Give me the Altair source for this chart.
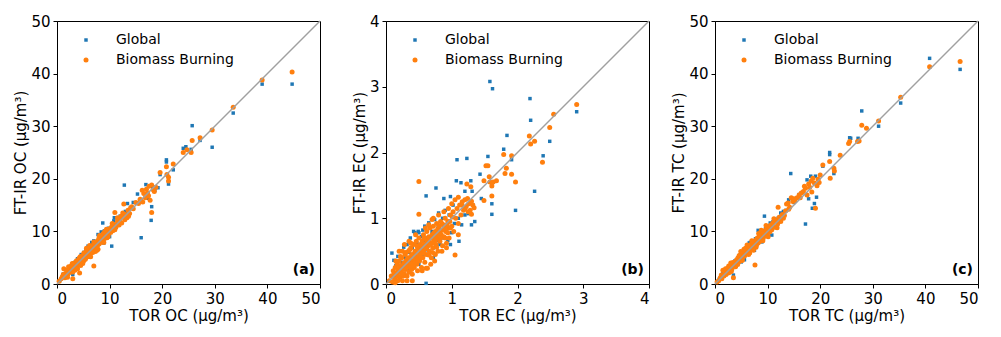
import altair as alt
import pandas as pd

SERIES = ["Global", "Biomass Burning"]
COLORS = ["#1f77b4", "#ff7f0e"]
SHAPES = ["square", "circle"]

# ---------------- Panel (a): OC ----------------
oc_global = [
    (0.5,0.6),(1.2,1.9),(1.8,2.2),(2.3,2.9),(2.9,3.5),(3.0,1.8),(3.4,4.1),(3.9,4.8),(4.2,4.0),(4.6,5.6),
    (5.1,6.0),(5.5,6.5),(5.9,7.2),(6.3,6.9),(6.6,7.9),(7.0,8.2),(7.3,7.7),(7.8,9.4),(8.1,8.8),(8.4,9.9),
    (8.7,11.6),(9.0,10.1),(9.3,9.3),(9.8,10.6),(10.4,7.2),(10.8,12.0),(10.9,12.6),(11.5,11.4),(12.0,12.9),(12.8,18.8),
    (13.4,15.3),(13.0,13.8),(14.5,15.5),(15.3,17.1),(16.0,8.8),(16.9,18.9),(17.2,16.3),(17.9,12.1),(18.0,14.7),(18.2,18.5),
    (19.2,18.3),(18.6,17.8),(20.8,23.6),(20.8,23.2),(21.2,19.0),(22.1,21.7),(24.0,25.8),(24.5,26.1),(25.5,25.6),(25.7,30.1),
    (27.2,27.3),(29.5,26.0),(33.5,32.5),(39.0,38.0),(44.7,38.0),(6.0,5.1),(7.5,6.4),(8.9,7.8),(3.6,3.0),(4.9,4.4),
    (10.0,9.0),(19.6,20.8),
]
oc_bb = [
    (0.4,0.5),(0.8,1.0),(1.0,1.4),(1.3,2.9),(1.5,1.2),(1.6,2.0),(1.8,1.6),(2.0,2.6),(2.1,1.9),(2.3,3.0),
    (2.4,2.2),(2.5,2.8),(2.7,3.4),(2.8,2.4),(3.0,1.0),(3.1,3.6),(3.2,2.9),(3.3,4.0),(3.5,3.1),(3.6,3.8),
    (3.7,4.4),(3.8,3.3),(4.0,4.3),(4.1,3.7),(4.2,4.9),(4.3,2.1),(4.5,4.6),(4.6,4.0),(4.7,5.3),(4.8,4.5),
    (5.0,5.1),(5.1,4.4),(5.2,5.8),(5.3,5.0),(5.4,4.7),(5.5,6.1),(5.6,5.4),(5.8,5.2),(5.9,6.3),(6.0,5.7),
    (6.1,6.7),(6.2,5.6),(6.3,6.3),(6.4,6.9),(6.5,5.9),(6.6,7.1),(6.7,6.4),(6.8,6.0),(6.9,7.4),(7.0,3.4),
    (7.1,6.7),(7.2,7.6),(7.3,6.9),(7.4,7.9),(7.5,7.0),(7.6,8.1),(7.7,7.3),(7.8,6.6),(7.9,8.4),(8.0,7.6),
    (8.2,8.7),(8.3,7.9),(8.5,9.1),(8.6,8.2),(8.8,9.6),(9.0,8.6),(9.1,10.0),(9.3,9.2),(9.5,8.8),(9.6,10.3),
    (9.8,9.5),(10.0,10.5),(10.2,9.8),(10.4,10.9),(10.6,10.1),(10.8,11.3),(11.0,13.6),(11.2,10.8),(11.5,11.9),(11.8,11.2),
    (12.0,12.3),(12.3,11.6),(12.6,12.8),(12.7,15.2),(12.9,12.2),(13.0,13.2),(13.3,12.6),(13.5,14.0),(13.8,13.4),(14.2,14.7),
    (14.5,14.3),(15.0,15.5),(15.5,15.3),(16.0,15.8),(16.3,15.6),(16.5,17.2),(16.8,16.4),(17.0,18.0),(17.2,17.3),(17.5,18.6),
    (17.7,15.9),(18.0,13.6),(18.0,18.8),(18.3,17.9),(18.5,17.6),(19.6,21.2),(20.8,22.3),(20.9,20.8),(21.2,20.3),(21.2,19.6),
    (22.1,22.8),(24.0,25.0),(24.7,25.5),(25.5,25.0),(25.7,27.3),(27.2,27.8),(29.5,29.3),(33.5,33.6),(39.0,38.8),(44.7,40.3),
    (1.2,1.8),(2.0,1.3),(2.6,3.2),(3.4,2.6),(4.4,5.2),(4.9,3.9),(5.7,6.5),(6.4,5.2),(7.0,8.0),(7.6,6.4),
    (8.1,9.2),(8.9,7.9),(3.0,2.3),(12.5,13.5),(10.5,11.5),(11.0,10.3),(9.4,10.4),(12.2,12.9),(13.6,12.9),(16.2,17.8),
    (17.4,16.8),(18.8,18.4),(15.8,16.1),(14.0,14.5),(11.5,12.6),(2.2,3.3),(3.9,2.9),(5.6,6.8),(6.2,7.3),(7.3,6.2),
    (8.4,8.9),(9.2,9.9),(10.3,10.3),(4.5,3.5),(2.9,3.9),(1.9,2.6),(5.1,5.9),(6.6,6.2),(8.0,8.8),(9.7,9.0),
]

# ---------------- Panel (b): EC ----------------
ec_global = [
    (0.09,0.47),(0.12,0.36),(0.14,0.11),(0.15,0.28),(0.18,0.42),(0.20,0.22),(0.22,0.50),(0.25,0.33),(0.27,0.56),(0.28,0.15),
    (0.30,0.40),(0.32,0.60),(0.33,0.27),(0.35,0.48),(0.37,0.70),(0.38,0.35),(0.40,0.55),(0.42,0.80),(0.44,0.78),(0.45,0.42),
    (0.47,0.62),(0.49,0.80),(0.50,0.30),(0.52,0.58),(0.54,0.72),(0.55,0.45),(0.57,0.66),(0.59,0.88),(0.60,0.52),(0.61,1.34),
    (0.61,0.01),(0.63,0.70),(0.65,0.93),(0.66,0.49),(0.68,0.62),(0.70,0.80),(0.72,0.55),(0.74,0.98),(0.76,1.46),(0.77,0.66),
    (0.79,0.85),(0.80,1.08),(0.82,0.60),(0.84,0.75),(0.86,1.00),(0.88,0.70),(0.90,1.12),(0.92,0.80),(0.94,0.66),(0.96,1.05),
    (0.98,1.33),(1.00,0.78),(1.02,1.20),(1.04,0.92),(1.08,1.89),(1.07,1.57),(1.10,1.00),(1.11,0.65),(1.14,1.54),(1.15,0.90),
    (1.20,1.41),(1.20,1.05),(1.23,1.91),(1.25,1.07),(1.29,1.57),(1.31,1.41),(1.30,0.90),(1.32,1.20),(1.35,0.95),(1.43,1.67),
    (1.55,1.94),(1.58,3.08),(1.61,1.50),(1.61,1.22),(1.61,1.06),(1.62,2.97),(1.79,2.05),(1.84,2.26),(1.91,1.89),(1.97,1.12),
    (2.19,2.82),(2.20,2.49),(2.26,1.41),(2.39,1.95),(2.49,2.17),(2.90,2.62),(1.45,1.30),(0.56,0.82),(0.35,0.20),(0.72,0.40),
    (0.98,0.60),(0.88,1.30),(0.50,0.78),
]
ec_bb = [
    (0.05,0.05),(0.08,0.12),(0.10,0.03),(0.11,0.20),(0.13,0.08),(0.14,0.25),(0.15,0.15),(0.16,0.05),(0.17,0.30),(0.18,0.12),
    (0.19,0.22),(0.20,0.35),(0.21,0.10),(0.22,0.28),(0.23,0.18),(0.24,0.40),(0.25,0.05),(0.26,0.25),(0.27,0.32),(0.28,0.15),
    (0.29,0.45),(0.30,0.22),(0.31,0.36),(0.32,0.12),(0.33,0.28),(0.34,0.50),(0.35,0.18),(0.36,0.40),(0.37,0.30),(0.38,0.55),
    (0.39,0.22),(0.40,0.45),(0.41,0.35),(0.42,0.60),(0.43,0.25),(0.44,0.50),(0.45,0.38),(0.46,0.65),(0.47,0.30),(0.48,0.55),
    (0.49,0.42),(0.50,0.70),(0.51,0.35),(0.52,0.60),(0.53,0.48),(0.54,0.25),(0.55,0.65),(0.56,0.40),(0.57,0.75),(0.58,0.52),
    (0.59,0.33),(0.60,0.68),(0.61,0.45),(0.62,0.80),(0.63,0.24),(0.64,0.58),(0.65,0.72),(0.66,0.50),(0.67,0.85),(0.68,0.62),
    (0.69,0.40),(0.70,0.75),(0.71,0.55),(0.72,0.88),(0.73,0.65),(0.74,0.35),(0.75,0.80),(0.76,0.60),(0.77,0.92),(0.78,0.70),
    (0.79,0.50),(0.80,0.85),(0.82,0.65),(0.83,0.95),(0.84,0.75),(0.86,0.58),(0.87,0.90),(0.88,0.72),(0.90,1.00),(0.91,0.80),
    (0.92,0.62),(0.94,0.95),(0.95,0.85),(0.96,0.70),(0.98,1.05),(1.00,0.88),(1.02,1.10),(1.03,0.80),(1.05,0.44),(1.06,1.00),
    (1.08,1.15),(1.10,0.92),(1.12,1.20),(1.14,1.05),(1.16,1.25),(1.18,1.12),(1.20,1.28),(1.22,1.18),(1.24,1.30),(1.26,1.22),
    (1.28,1.12),(1.30,1.26),(1.32,1.20),(1.34,1.16),(1.23,1.52),(1.29,1.48),(0.50,1.56),(0.50,1.06),(0.61,0.24),(1.49,1.57),
    (1.49,1.27),(1.52,1.80),(1.55,1.80),(1.57,1.63),(1.58,1.55),(1.61,1.49),(1.61,1.34),(1.63,1.55),(1.68,1.57),(1.79,1.97),
    (1.81,1.68),(1.83,1.76),(1.91,1.95),(1.91,1.67),(1.97,1.55),(2.18,2.25),(2.20,2.13),(2.26,2.17),(2.38,1.85),(2.49,2.38),
    (2.55,2.58),(2.90,2.73),
    (0.12,0.15),(0.18,0.05),(0.22,0.42),(0.26,0.12),(0.30,0.48),(0.33,0.40),(0.36,0.25),(0.40,0.15),(0.44,0.32),(0.48,0.20),
    (0.52,0.45),(0.56,0.58),(0.58,0.70),(0.62,0.55),(0.66,0.68),(0.70,0.62),(0.74,0.72),(0.78,0.82),(0.82,0.78),(0.86,0.82),
    (0.90,0.70),(0.94,0.78),(0.98,0.85),(0.60,0.85),(0.70,0.98),(0.80,1.05),(0.68,0.30),(0.75,0.45),(0.45,0.75),(0.38,0.62),
    (0.88,1.10),(0.95,1.15),(1.00,1.22),(1.05,1.28),(1.10,1.32),(1.15,1.20),(1.20,1.15),(1.25,1.10),(1.30,1.06),(0.55,0.20),
    (0.85,0.50),(0.92,0.55),(1.10,0.75),(0.65,0.90),(0.72,1.00),(0.20,0.50),(0.15,0.35),(0.28,0.60),(0.35,0.65),(0.25,0.50),
    (0.17,0.18),(0.21,0.25),(0.24,0.15),(0.27,0.22),(0.29,0.30),(0.31,0.28),(0.34,0.33),(0.37,0.38),(0.39,0.44),(0.41,0.28),
    (0.43,0.42),(0.46,0.48),(0.48,0.36),(0.51,0.52),(0.53,0.40),(0.55,0.56),(0.57,0.47),(0.59,0.60),(0.61,0.54),(0.63,0.64),
    (0.65,0.44),(0.67,0.60),(0.69,0.70),(0.71,0.48),(0.73,0.78),(0.75,0.66),(0.77,0.56),(0.79,0.76),(0.81,0.88),(0.83,0.70),
    (0.85,0.92),(0.89,0.85),(0.93,0.90),(0.97,0.95),(1.01,1.02),(0.32,0.05),(0.40,0.05),(0.14,0.02),(0.36,0.52),(0.47,0.58),
]

# ---------------- Panel (c): TC ----------------
tc_global = [
    (0.8,0.9),(1.5,2.0),(2.2,2.6),(3.0,3.7),(3.5,1.7),(3.8,4.4),(4.3,4.9),(4.8,5.5),(5.2,5.9),(5.6,4.6),
    (6.0,6.9),(6.3,7.4),(6.7,7.9),(7.0,8.0),(7.3,7.2),(7.7,8.6),(8.2,10.2),(8.4,9.0),(8.9,8.0),(9.4,12.9),
    (9.6,10.5),(10.0,11.0),(10.5,11.6),(10.8,9.3),(11.5,12.0),(12.0,12.5),(12.5,13.5),(13.0,13.8),(13.5,14.0),(14.4,21.0),
    (14.0,16.0),(15.0,15.5),(16.0,17.0),(16.5,17.3),(17.2,11.4),(17.5,19.8),(18.2,20.5),(18.5,14.4),(18.9,15.3),(19.1,20.5),
    (17.8,16.2),(19.3,16.5),(20.5,22.4),(21.8,25.0),(21.8,24.6),(22.6,21.0),(25.6,27.8),(25.8,27.7),(27.2,27.7),(27.9,32.9),
    (31.1,30.0),(35.3,34.4),(40.8,42.9),(46.6,40.8),(5.0,4.2),(7.5,6.4),(9.0,9.7),(11.0,11.8),(4.0,3.4),(6.5,7.8),
]
tc_bb = [
    (0.4,0.4),(0.7,0.6),(1.0,1.2),(1.3,1.0),(1.5,2.6),(1.7,1.5),(1.9,2.2),(2.1,1.8),(2.3,2.7),(2.5,2.1),
    (2.6,3.4),(2.8,2.6),(3.0,3.2),(3.2,2.8),(3.3,3.9),(3.5,1.2),(3.6,3.5),(3.8,4.2),(3.9,3.3),(4.1,4.6),
    (4.2,3.9),(4.4,5.0),(4.5,4.2),(4.7,5.3),(4.8,4.6),(5.0,5.6),(5.1,4.8),(5.3,6.0),(5.4,5.2),(5.6,6.3),
    (5.7,5.4),(5.9,6.6),(6.0,5.8),(6.2,7.0),(6.3,6.1),(6.5,7.2),(6.6,5.9),(6.8,7.5),(6.9,6.6),(7.1,7.8),
    (7.2,6.8),(7.4,8.1),(7.5,7.1),(7.6,3.6),(7.7,8.3),(7.9,7.4),(8.0,8.7),(8.2,7.8),(8.4,9.1),(8.5,8.1),
    (8.7,9.4),(8.9,8.5),(9.0,9.8),(9.2,8.8),(9.4,10.1),(9.6,9.2),(9.8,10.5),(10.0,9.6),(10.2,10.9),(10.4,9.9),
    (10.6,11.2),(10.8,10.3),(11.0,11.6),(11.3,10.8),(11.6,12.1),(11.9,11.4),(12.0,14.6),(12.2,12.7),(12.5,11.9),(12.8,13.2),
    (13.0,12.5),(13.4,13.9),(13.6,15.2),(13.9,15.4),(14.2,14.6),(14.5,16.4),(14.8,15.7),(15.2,15.8),(15.6,16.4),(16.0,16.9),
    (16.4,17.3),(16.8,17.6),(17.2,18.2),(17.5,16.9),(17.8,19.0),(18.0,18.4),(18.3,19.6),(18.6,20.1),(18.9,19.2),(19.1,14.4),
    (19.4,18.7),(19.6,19.9),(20.0,20.7),(20.5,22.6),(21.8,23.3),(21.9,20.1),(22.6,22.0),(22.7,21.5),(23.8,24.5),(25.4,26.7),
    (25.6,27.1),(27.1,27.1),(27.4,27.2),(27.9,30.2),(28.8,29.6),(31.1,31.0),(35.3,35.5),(40.8,41.3),(46.6,42.3),
    (1.2,1.7),(2.0,2.9),(2.7,2.2),(3.4,4.1),(4.0,3.6),(4.6,5.4),(5.2,4.5),(5.8,6.8),(6.4,5.6),(7.0,8.2),
    (7.8,7.0),(8.3,9.6),(9.1,8.2),(9.7,11.1),(10.5,10.1),(11.2,12.4),(12.4,12.2),(13.2,13.0),(14.0,14.2),(15.0,16.2),
    (16.2,16.4),(17.0,18.6),(18.4,17.5),(19.8,19.3),(6.1,7.4),(8.8,10.2),(10.1,9.0),(4.9,6.2),(3.1,2.4),(11.8,10.7),
    (2.4,3.0),(4.3,3.7),(5.5,6.6),(6.7,7.0),(7.3,6.4),(8.6,9.0),(9.3,9.6),(10.3,10.4),(5.0,4.4),(3.0,4.0),
]

PANELS = [
    ("OC", 50, [0, 10, 20, 30, 40, 50], oc_global, oc_bb, "(a)"),
    ("EC", 4, [0, 1, 2, 3, 4], ec_global, ec_bb, "(b)"),
    ("TC", 50, [0, 10, 20, 30, 40, 50], tc_global, tc_bb, "(c)"),
]

W = 263
H = 263
FONT = "DejaVu Sans"


def panel(name, vmax, ticks, glob, bb, label):
    rows = [{"x": a, "y": b, "series": "Global"} for a, b in glob]
    rows += [{"x": a, "y": b, "series": "Biomass Burning"} for a, b in bb]
    df = pd.DataFrame(rows)
    leg = alt.Legend(
        title=None, orient="none", legendX=22, legendY=12, padding=0,
        labelFontSize=14, labelFont=FONT, labelColor="black", labelOffset=23,
        rowPadding=6, symbolSize=20, symbolStrokeWidth=0, labelLimit=300,
    )
    xs = alt.Scale(domain=[0, vmax], nice=False, zero=True)
    ys = alt.Scale(domain=[0, vmax], nice=False, zero=True)
    pts = alt.Chart(df).mark_point(filled=True, opacity=1, strokeWidth=0).encode(
        x=alt.X("x:Q", scale=xs, axis=alt.Axis(values=ticks, title=f"TOR {name} (µg/m³)", format="d")),
        y=alt.Y("y:Q", scale=ys, axis=alt.Axis(values=ticks, title=f"FT-IR {name} (µg/m³)", format="d")),
        color=alt.Color("series:N", scale=alt.Scale(domain=SERIES, range=COLORS), legend=leg),
        shape=alt.Shape("series:N", scale=alt.Scale(domain=SERIES, range=SHAPES), legend=leg),
        size=alt.Size("series:N", scale=alt.Scale(domain=SERIES, range=[12, 25]), legend=leg),
    )
    line_df = pd.DataFrame({"x": [0, vmax], "y": [0, vmax]})
    line = alt.Chart(line_df).mark_line(color="#a0a0a0", strokeWidth=1.5).encode(
        x=alt.X("x:Q", scale=xs), y=alt.Y("y:Q", scale=ys)
    )
    txt = alt.Chart(pd.DataFrame({"t": [label]})).mark_text(
        font=FONT, fontSize=14, fontWeight="bold", align="right", baseline="middle", color="black"
    ).encode(text="t:N", x=alt.value(W - 5), y=alt.value(H - 14))
    return alt.layer(pts, line, txt).properties(width=W, height=H)


charts = [panel(*p) for p in PANELS]
chart = alt.hconcat(*charts, spacing=66, bounds="flush").resolve_scale(
    color="independent", shape="independent", size="independent", x="independent", y="independent"
).resolve_legend(color="independent", shape="independent", size="independent").configure(
    background="white", padding={"left": 5, "top": 5, "right": 0, "bottom": 0}
).configure_view(
    stroke="black", strokeWidth=1
).configure_axis(
    grid=False, domainColor="black", tickColor="black", labelColor="black", titleColor="black",
    labelFont=FONT, titleFont=FONT, labelFontSize=15, titleFontSize=15, titleFontWeight="normal",
    tickSize=4, labelPadding=3, titlePadding=2, domainWidth=1, tickWidth=1,
)

chart.save("out.html", embed_options={"renderer": "svg", "actions": False})
